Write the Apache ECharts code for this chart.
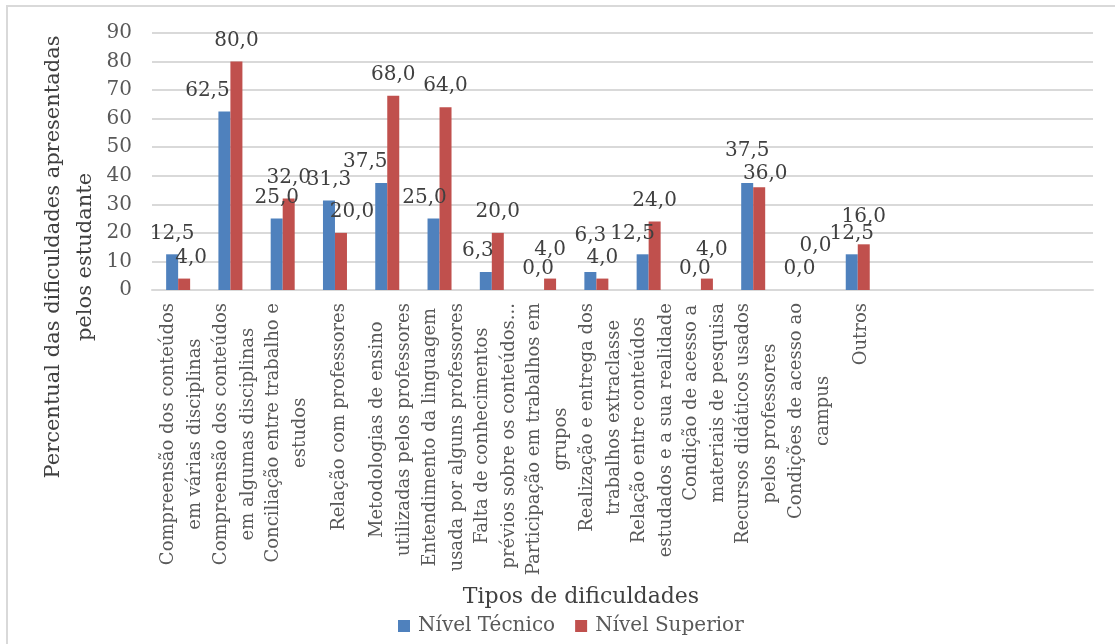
<!DOCTYPE html>
<html>
<head>
<meta charset="utf-8">
<script src="https://cdn.jsdelivr.net/npm/echarts@6/dist/echarts.min.js"></script>
<style>
  html, body { margin: 0; padding: 0; background: #ffffff; }
  #chart { width: 1115px; height: 644px; }
</style>
</head>
<body>
<div id="chart"></div>
<script>
// Categories (two-line labels; trailing blanks keep the empty slots at the right)
const categories = [
  'Compreensão dos conteúdos\nem várias disciplinas',
  'Compreensão dos conteúdos\nem algumas disciplinas',
  'Conciliação entre trabalho e\nestudos',
  'Relação com professores',
  'Metodologias de ensino\nutilizadas pelos professores',
  'Entendimento da linguagem\nusada por alguns professores',
  'Falta de conhecimentos\nprévios sobre os conteúdos...',
  'Participação em trabalhos em\ngrupos',
  'Realização e entrega dos\ntrabalhos extraclasse',
  'Relação entre conteúdos\nestudados e a sua realidade',
  'Condição de acesso a\nmateriais de pesquisa',
  'Recursos didáticos usados\npelos professores',
  'Condições de acesso ao\ncampus',
  'Outros',
  '', '', '', ''
];

const tecnico  = [12.5, 62.5, 25.0, 31.3, 37.5, 25.0, 6.3, 0.0, 6.3, 12.5, 0.0, 37.5, 0.0, 12.5, null, null, null, null];
const superior = [4.0, 80.0, 32.0, 20.0, 68.0, 64.0, 20.0, 4.0, 4.0, 24.0, 4.0, 36.0, 0.0, 16.0, null, null, null, null];

const seriesNames = ['Nível Técnico', 'Nível Superior'];
const yTicks = [0, 10, 20, 30, 40, 50, 60, 70, 80, 90];

// Hand-placed label offsets [dx, dy] for crowded spots
const nudgeTecnico  = { 1: [-17, 0], 4: [-16, 0], 5: [-9, 0], 6: [-8, 0], 8: [0, -15], 9: [-10, 0], 11: [0, -11] };
const nudgeSuperior = { 0: [7, 0], 3: [11, 0], 7: [0, -8], 10: [5, -8], 11: [6, 8], 12: [4, -23], 13: [0, -7] };

const FONT = "'DejaVu Serif', 'Liberation Serif', serif";

function buildData(values, nudges) {
  return values.map((v, i) => {
    const item = { value: v };
    if (nudges[i]) item.label = { offset: nudges[i] };
    return item;
  });
}

const labelStyle = {
  show: true,
  position: 'top',
  distance: 11,
  fontFamily: FONT,
  fontSize: 20,
  color: '#404040',
  formatter: p => (p.value == null ? '' : Number(p.value).toFixed(1).replace('.', ','))
};

const chart = echarts.init(document.getElementById('chart'), null, { renderer: 'canvas' });

chart.setOption({
  backgroundColor: '#ffffff',
  animation: false,
  grid: { left: 152, right: 22, top: 33, bottom: 354, containLabel: false },
  legend: {
    data: seriesNames,
    left: 393,
    top: 611,
    icon: 'rect',
    itemWidth: 12,
    itemHeight: 12,
    itemGap: 20,
    textStyle: { fontFamily: FONT, fontSize: 20, color: '#595959', padding: [0, 0, 0, 3] }
  },
  xAxis: {
    type: 'category',
    data: categories,
    axisLine: { show: true, lineStyle: { color: '#D9D9D9', width: 2 } },
    axisTick: { show: false },
    axisLabel: {
      interval: 0,
      rotate: 90,
      margin: 13,
      padding: [8, 0, 0, 0],
      hideOverlap: false,
      formatter: v => v ? v.split('\n').map(s => '{c|' + s + '}').join('\n') : '',
      rich: {
        c: { align: 'center', fontFamily: FONT, fontSize: 18, color: '#595959', lineHeight: 27 }
      }
    }
  },
  yAxis: {
    type: 'value',
    min: yTicks[0],
    max: yTicks[yTicks.length - 1],
    interval: yTicks[1] - yTicks[0],
    axisLine: { show: false },
    axisTick: { show: false },
    axisLabel: { fontFamily: FONT, fontSize: 20, color: '#595959', margin: 20 },
    splitLine: { lineStyle: { color: '#D9D9D9', width: 2 } }
  },
  series: [
    {
      name: seriesNames[0],
      type: 'bar',
      barWidth: 12,
      barGap: '0%',
      itemStyle: { color: '#4F81BD' },
      label: labelStyle,
      data: buildData(tecnico, nudgeTecnico)
    },
    {
      name: seriesNames[1],
      type: 'bar',
      barWidth: 12,
      barGap: '0%',
      itemStyle: { color: '#C0504D' },
      label: labelStyle,
      data: buildData(superior, nudgeSuperior)
    }
  ],
  graphic: [
    {
      type: 'rect',
      z: -10,
      shape: { x: 7, y: 6, width: 1140, height: 700 },
      style: { fill: null, stroke: '#D9D9D9', lineWidth: 2 }
    },
    {
      type: 'text',
      x: 70,
      y: 257,
      rotation: Math.PI / 2,
      style: {
        text: 'Percentual das dificuldades apresentadas\npelos estudante',
        fontFamily: FONT,
        fontSize: 21,
        lineHeight: 32,
        fill: '#404040',
        align: 'center',
        verticalAlign: 'middle'
      }
    },
    {
      type: 'text',
      x: 581,
      y: 597,
      style: {
        text: 'Tipos de dificuldades',
        fontFamily: FONT,
        fontSize: 22,
        fill: '#404040',
        align: 'center',
        verticalAlign: 'middle'
      }
    }
  ]
});
</script>
</body>
</html>
